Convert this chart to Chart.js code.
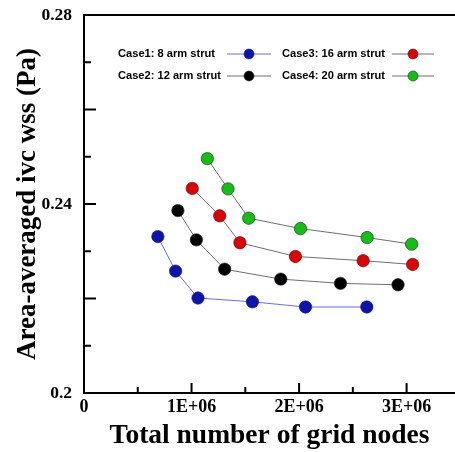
<!DOCTYPE html>
<html>
<head>
<meta charset="utf-8">
<script src="https://cdn.jsdelivr.net/npm/chart.js@4/dist/chart.umd.min.js"></script>
<style>
  html, body { margin: 0; padding: 0; background: #fff; }
</style>
</head>
<body>
<canvas id="chart" width="455" height="452"></canvas>
<script>
// --- data ---
const caseLabels = ["Case1: 8 arm strut", "Case2: 12 arm strut", "Case3: 16 arm strut", "Case4: 20 arm strut"];

const case1Nodes = [0.687e6, 0.852e6, 1.06e6, 1.566e6, 2.06e6, 2.63e6];
const case1Wss = [0.2331, 0.2258, 0.2201, 0.2193, 0.2182, 0.2182];

const case2Nodes = [0.873e6, 1.045e6, 1.308e6, 1.83e6, 2.385e6, 2.92e6];
const case2Wss = [0.2386, 0.2324, 0.2262, 0.2241, 0.2232, 0.2229];

const case3Nodes = [1.007e6, 1.262e6, 1.45e6, 1.966e6, 2.596e6, 3.056e6];
const case3Wss = [0.2433, 0.2375, 0.2318, 0.2289, 0.228, 0.2272];

const case4Nodes = [1.147e6, 1.339e6, 1.532e6, 2.013e6, 2.633e6, 3.047e6];
const case4Wss = [0.2496, 0.2432, 0.237, 0.2348, 0.2329, 0.2315];

// tick marks (minor + major) and the labels shown on them
const xTickValues = [0, 0.5e6, 1e6, 1.5e6, 2e6, 2.5e6, 3e6];
const xTickLabels = ["0", "", "1E+06", "", "2E+06", "", "3E+06"];
const yTickValues = [0.2, 0.21, 0.22, 0.23, 0.24, 0.25, 0.26, 0.27, 0.28];
const yTickLabels = ["0.2", "", "", "", "0.24", "", "", "", "0.28"];

const pointColors = ["#0a14b4", "#000000", "#e00000", "#12c012"];
const lineColors = ["#6a6ae6", "#6e6e6e", "#6e6e6e", "#6e6e6e"];

const toPoints = (xs, ys) => xs.map((x, i) => ({ x: x, y: ys[i] }));
const seriesData = [
  toPoints(case1Nodes, case1Wss),
  toPoints(case2Nodes, case2Wss),
  toPoints(case3Nodes, case3Wss),
  toPoints(case4Nodes, case4Wss),
];

const serif = "'Liberation Serif', 'Times New Roman', serif";

/**
 * Axis frame with inward ticks + legend drawn in the plot corner
 */
const framePlugin = {
  id: "frame",
  afterDraw(chart) {
    const ctx = chart.ctx;
    const area = chart.chartArea;
    const xs = chart.scales.x;
    const ys = chart.scales.y;

    ctx.save();
    ctx.strokeStyle = "#000";
    ctx.lineWidth = 2;
    ctx.beginPath();
    ctx.moveTo(area.right + 2, area.top);
    ctx.lineTo(area.left, area.top);
    ctx.lineTo(area.left, area.bottom);
    ctx.lineTo(area.right + 2, area.bottom);
    ctx.stroke();

    // y ticks, long ones every 0.02
    yTickValues.forEach((v, i) => {
      if (i === 0 || i === yTickValues.length - 1) return;
      const y = ys.getPixelForValue(v);
      const len = i % 2 === 0 ? 12 : 7;
      ctx.beginPath();
      ctx.moveTo(area.left, y);
      ctx.lineTo(area.left + len, y);
      ctx.stroke();
    });

    // x ticks, long ones every 1E+06
    xTickValues.forEach((v, i) => {
      if (i === 0) return;
      const x = xs.getPixelForValue(v);
      const len = i % 2 === 0 ? 10 : 6;
      ctx.beginPath();
      ctx.moveTo(x, area.bottom);
      ctx.lineTo(x, area.bottom - len);
      ctx.stroke();
    });

    // legend: label text then line + marker
    ctx.font = "bold 11.5px 'Liberation Sans', Arial, sans-serif";
    ctx.textBaseline = "middle";
    ctx.textAlign = "left";
    const cols = [
      { textX: 118, lineX0: 227, lineX1: 271 },
      { textX: 282, lineX0: 392, lineX1: 434 },
    ];
    const rows = [54, 76];
    chart.data.datasets.forEach((ds, i) => {
      const c = cols[Math.floor(i / 2)];
      const y = rows[i % 2];
      ctx.fillStyle = "#000";
      ctx.fillText(ds.label, c.textX, y, i === 0 ? 97 : 103);
      ctx.strokeStyle = ds.borderColor;
      ctx.lineWidth = 1;
      ctx.beginPath();
      ctx.moveTo(c.lineX0, y);
      ctx.lineTo(c.lineX1, y);
      ctx.stroke();
      ctx.beginPath();
      ctx.arc((c.lineX0 + c.lineX1) / 2, y, 5, 0, Math.PI * 2);
      ctx.fillStyle = ds.pointBackgroundColor;
      ctx.fill();
      ctx.strokeStyle = "#222";
      ctx.lineWidth = 0.6;
      ctx.stroke();
    });
    ctx.restore();
  },
};

new Chart(document.getElementById("chart"), {
  type: "scatter",
  data: {
    datasets: seriesData.map((pts, i) => ({
      label: caseLabels[i],
      data: pts,
      showLine: true,
      borderColor: lineColors[i],
      borderWidth: 1,
      pointBackgroundColor: pointColors[i],
      pointBorderColor: "#222",
      pointBorderWidth: 0.6,
      pointRadius: 6.2,
    })),
  },
  options: {
    responsive: false,
    animation: false,
    layout: { autoPadding: false, padding: { top: 15, right: 0, left: 0, bottom: 0 } },
    plugins: {
      legend: { display: false },
      tooltip: { enabled: false },
    },
    scales: {
      x: {
        type: "linear",
        min: 0,
        max: 3.45e6,
        grid: { display: false, drawTicks: false },
        border: { display: false },
        afterBuildTicks(scale) {
          scale.ticks = xTickValues.map((v) => ({ value: v }));
        },
        afterFit(scale) { scale.height = 59; },
        ticks: {
          padding: 4,
          autoSkip: false,
          maxRotation: 0,
          color: "#000",
          font: { family: serif, size: 18, weight: "bold" },
          callback(v, i) { return xTickLabels[i]; },
        },
        title: {
          display: true,
          text: "Total number of grid nodes",
          color: "#000",
          font: { family: serif, size: 27.5, weight: "bold" },
          padding: { top: 0, bottom: 0 },
        },
      },
      y: {
        type: "linear",
        min: 0.2,
        max: 0.28,
        grid: { display: false, drawTicks: false },
        border: { display: false },
        afterBuildTicks(scale) {
          scale.ticks = yTickValues.map((v) => ({ value: v }));
        },
        afterFit(scale) {
          scale.width = 84;
          scale.paddingTop = 0;
          scale.paddingBottom = 0;
        },
        ticks: {
          padding: 12,
          autoSkip: false,
          color: "#000",
          font: { family: serif, size: 17.5, weight: "bold" },
          callback(v, i) { return yTickLabels[i]; },
        },
        title: {
          display: true,
          text: "Area-averaged ivc wss (Pa)",
          color: "#000",
          font: { family: serif, size: 27, weight: "bold" },
          padding: { top: 12, bottom: 0 },
        },
      },
    },
  },
  plugins: [framePlugin],
});
</script>
</body>
</html>
